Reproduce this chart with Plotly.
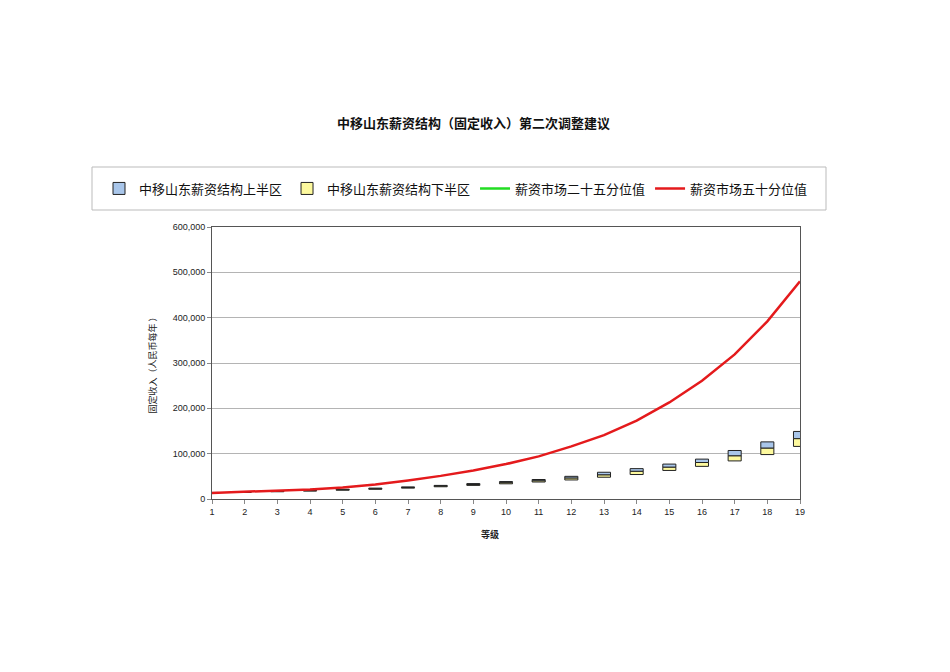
import plotly.graph_objects as go

grades = list(range(1, 20))
struct_min = [13000, 14500, 16000, 17500, 19500, 21500, 24000, 27000, 30000, 33500,
              37500, 42000, 48000, 54000, 63000, 72000, 84000, 98000, 116000]
struct_mid = [13700, 15300, 16800, 18500, 20500, 22700, 25300, 28500, 32000, 36000,
              40000, 46000, 53000, 61000, 70000, 80500, 95000, 112000, 133000]
struct_max = [14500, 16000, 17600, 19500, 21500, 24000, 26700, 30000, 34000, 38500,
              43000, 50000, 59000, 67000, 77000, 88000, 107000, 126000, 149000]
market_p25 = [None] * 19
market_p50 = [13500, 16000, 18000, 21000, 25500, 32000, 41000, 51000, 63000, 77000,
              94000, 116000, 141000, 173000, 213000, 261000, 319000, 392000, 480000]

title_text = "中移山东薪资结构（固定收入）第二次调整建议"
names = ["中移山东薪资结构上半区", "中移山东薪资结构下半区", "薪资市场二十五分位值", "薪资市场五十分位值"]

CJK = "Noto Sans CJK SC, Liberation Sans, Arial, sans-serif"
LAT = "Liberation Sans, Arial, sans-serif"

OFF = 8  # page body margin
W, H = 950 - 2 * OFF, 672 - 2 * OFF
L, R, T, B = 212, 800, 227, 499
pw, ph = R - L, B - T

def px(x):
    return (x - L) / pw

def py(y):
    return (B - y) / ph

fig = go.Figure()
upper = [mx - md for mx, md in zip(struct_max, struct_mid)]
lower = [md - mn for md, mn in zip(struct_mid, struct_min)]

fig.add_trace(go.Bar(x=grades, y=upper, base=struct_mid, name=names[0], width=0.4,
                     marker=dict(color="#a9c6ea", line=dict(color="#222222", width=1))))
fig.add_trace(go.Bar(x=grades, y=lower, base=struct_min, name=names[1], width=0.4,
                     marker=dict(color="#fdf99e", line=dict(color="#222222", width=1))))
fig.add_trace(go.Scatter(x=grades, y=market_p25, mode="lines", name=names[2],
                         line=dict(color="#22dd22", width=2.5)))
fig.add_trace(go.Scatter(x=grades, y=market_p50, mode="lines", name=names[3],
                         line=dict(color="#e41a1c", width=2.5)))

fig.update_layout(
    width=W, height=H,
    margin=dict(l=L - OFF, r=(950 - OFF) - R, t=T - OFF, b=(672 - OFF) - B, pad=0),
    paper_bgcolor="white", plot_bgcolor="white",
    barmode="overlay",
    showlegend=True,
    legend=dict(orientation="h", x=px(99), xanchor="left", y=py(188.5), yanchor="middle",
                font=dict(family=CJK, size=13, color="#111111"),
                itemwidth=30,
                traceorder="normal", bgcolor="rgba(0,0,0,0)", borderwidth=0),
    font=dict(family=LAT, size=9, color="#222222"),
)

fig.update_xaxes(range=[1, 19], tickmode="linear", tick0=1, dtick=1,
                 showline=True, linecolor="#555555", linewidth=1, mirror=True,
                 ticks="outside", ticklen=4, tickcolor="#888888",
                 showgrid=False, zeroline=False,
                 tickfont=dict(family=LAT, size=9, color="#222222"))
fig.update_yaxes(range=[0, 600000], tickmode="linear", tick0=0, dtick=100000,
                 tickformat=",", showline=True, linecolor="#555555", linewidth=1, mirror=True,
                 ticks="outside", ticklen=4, tickcolor="#888888",
                 showgrid=True, gridcolor="#b4b4b4", gridwidth=1, zeroline=False,
                 tickfont=dict(family=LAT, size=9, color="#222222"),
                 title=dict(text="固定收入（人民币每年 ）", font=dict(family=CJK, size=9, color="#222222"),
                            standoff=14))

fig.add_annotation(text="<b>" + title_text + "</b>", xref="paper", yref="paper",
                   x=px(473), y=py(122), xanchor="center", yanchor="middle",
                   showarrow=False, font=dict(family=CJK, size=13, color="#111111"))
fig.add_annotation(text="<b>等级</b>", xref="paper", yref="paper",
                   x=px(490), y=py(534), xanchor="center", yanchor="middle",
                   showarrow=False, font=dict(family=CJK, size=9, color="#222222"))
fig.add_shape(type="rect", xref="paper", yref="paper",
              x0=px(92), x1=px(826), y0=py(210), y1=py(167),
              line=dict(color="#bbbbbb", width=1), fillcolor="rgba(0,0,0,0)", layer="below")

fig.write_html("out.html")
